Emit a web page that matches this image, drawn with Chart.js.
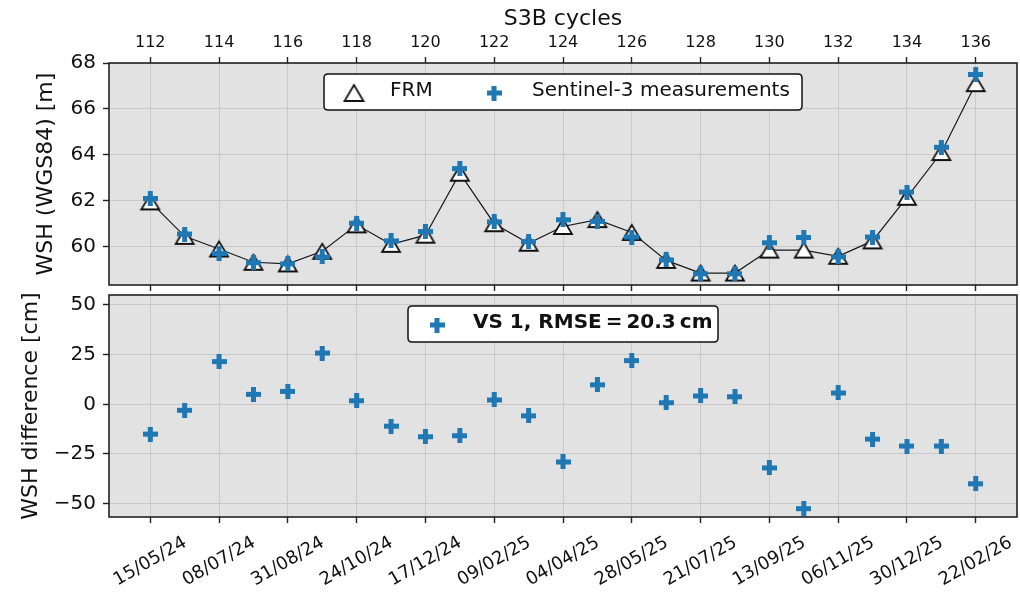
<!DOCTYPE html>
<html><head><meta charset="utf-8">
<script src="https://cdn.jsdelivr.net/npm/chart.js@4.4.0/dist/chart.umd.min.js"></script>
<style>
html,body{margin:0;padding:0;background:#fff;}
#wrap{position:relative;width:1020px;height:595px;overflow:hidden;}
#wrap canvas{position:absolute;left:0;top:0;}
</style></head><body>
<div id="wrap"><canvas id="topC" width="1020" height="595"></canvas><canvas id="botC" width="1020" height="595"></canvas></div>
<script>
// ---- data ----
const cycles = [112,113,114,115,116,117,118,119,120,121,122,123,124,125,126,127,128,129,130,131,132,133,134,135,136];
const frmWSH = [61.95,60.45,59.90,59.32,59.25,59.80,60.95,60.10,60.50,63.20,61.00,60.15,60.88,61.18,60.62,59.40,58.85,58.85,59.85,59.85,59.58,60.25,62.15,64.10,67.10];
const s3WSH  = [62.10,60.55,59.70,59.30,59.25,59.55,61.02,60.25,60.66,63.40,61.08,60.22,61.17,61.10,60.42,59.42,58.82,58.82,60.17,60.40,59.55,60.42,62.38,64.33,67.50];
const wshDiffCm = [-15,-3,21.5,5,6.5,25.8,1.8,-11,-16.3,-15.8,2.2,-5.8,-29,9.8,22,0.8,4.2,3.8,-32,-52.5,5.7,-17.5,-21,-21,-40];
const cycleTicks = [112,114,116,118,120,122,124,126,128,130,132,134,136];
const dateTickLabels = ['15/05/24','08/07/24','31/08/24','24/10/24','17/12/24','09/02/25','04/04/25','28/05/25','21/07/25','13/09/25','06/11/25','30/12/25','22/02/26'];
const wshTicks = [60,62,64,66,68];
const diffTicks = [-50,-25,0,25,50];
const legendTop = ['FRM','Sentinel-3 measurements'];
const legendBottom = 'VS 1, RMSE\u2009=\u200920.3\u2009cm';

// ---- styles ----
const FONT = 'DejaVu Sans';
const TXT = '#111';
const BLUE = '#1f77b4';
const BG = '#e2e2e2';
const GRID = '#c9c9c9';
const XMIN = 110.8, XMAX = 137.2;

function makePlus(size, arm, color){
  const c = document.createElement('canvas'); c.width = size; c.height = size;
  const g = c.getContext('2d'); g.fillStyle = color;
  const a = (size - arm) / 2;
  g.fillRect(a, 0, arm, size); g.fillRect(0, a, size, arm);
  return c;
}
function makeTri(w, h){
  const c = document.createElement('canvas'); c.width = w + 4; c.height = h + 4;
  const g = c.getContext('2d');
  g.lineWidth = 1.8; g.strokeStyle = '#111'; g.fillStyle = '#fff'; g.lineJoin = 'miter';
  g.beginPath(); g.moveTo(2 + w / 2, 2); g.lineTo(2, 2 + h); g.lineTo(2 + w, 2 + h); g.closePath();
  g.fill(); g.stroke();
  return c;
}
const plusImg = makePlus(15, 5, BLUE);
const triImg = makeTri(18, 15);
const triLegImg = makeTri(19, 16);

const setTicks = arr => s => { s.ticks = arr.map(v => ({value: v})); };
const minus = v => String(v).replace('-', '\u2212');

function roundBox(ctx, x, y, w, h, r){
  ctx.beginPath();
  ctx.moveTo(x + r, y); ctx.lineTo(x + w - r, y); ctx.quadraticCurveTo(x + w, y, x + w, y + r);
  ctx.lineTo(x + w, y + h - r); ctx.quadraticCurveTo(x + w, y + h, x + w - r, y + h);
  ctx.lineTo(x + r, y + h); ctx.quadraticCurveTo(x, y + h, x, y + h - r);
  ctx.lineTo(x, y + r); ctx.quadraticCurveTo(x, y, x + r, y); ctx.closePath();
  ctx.fillStyle = '#fff'; ctx.fill(); ctx.strokeStyle = '#111'; ctx.lineWidth = 1.5; ctx.stroke();
}
function framePlugin(legendDraw){
  return {
    id: 'frame',
    beforeDraw(chart){
      const {ctx, chartArea: a} = chart;
      ctx.save(); ctx.fillStyle = BG; ctx.fillRect(a.left, a.top, a.right - a.left, a.bottom - a.top); ctx.restore();
    },
    afterDraw(chart){
      const {ctx, chartArea: a} = chart;
      ctx.save(); ctx.strokeStyle = '#222'; ctx.lineWidth = 1.6;
      ctx.strokeRect(a.left, a.top, a.right - a.left, a.bottom - a.top); ctx.restore();
      ctx.save(); legendDraw(ctx); ctx.restore();
    }
  };
}

Chart.defaults.font.family = FONT;
Chart.defaults.color = TXT;

const common = {
  responsive: false, animation: false, devicePixelRatio: 1,
  events: [],
  plugins: { legend: {display: false}, tooltip: {enabled: false} }
};

// ---- top panel ----
new Chart(document.getElementById('topC'), {
  type: 'scatter',
  data: { datasets: [
    { label: legendTop[1], data: cycles.map((c, i) => ({x: c, y: s3WSH[i]})),
      pointStyle: plusImg, pointRadius: 7, showLine: false, order: 0, clip: false },
    { label: legendTop[0], data: cycles.map((c, i) => ({x: c, y: frmWSH[i]})),
      pointStyle: triImg, pointRadius: 9, showLine: true, borderColor: '#1a1a1a', borderWidth: 1.2,
      order: 1, clip: false }
  ]},
  options: Object.assign({}, common, {
    layout: { autoPadding: false, padding: {left: 0, right: 3, top: 0, bottom: 0} },
    scales: {
      x: { type: 'linear', position: 'top', min: XMIN, max: XMAX,
        afterBuildTicks: setTicks(cycleTicks),
        afterFit: s => { s.height = 63; s.paddingLeft = 0; s.paddingRight = 0; },
        ticks: { font: {size: 16}, color: TXT, padding: 5, maxRotation: 0, autoSkip: false, callback: v => String(v) },
        grid: { color: GRID, lineWidth: 1, tickLength: 6, tickColor: '#222', tickWidth: 1.4 },
        border: { display: false },
        title: { display: true, text: 'S3B cycles', font: {size: 22}, color: TXT, padding: {top: 6, bottom: 0} }
      },
      x2: { type: 'linear', position: 'bottom', min: XMIN, max: XMAX,
        afterBuildTicks: setTicks(cycleTicks),
        afterFit: s => { s.height = 310; s.paddingLeft = 0; s.paddingRight = 0; },
        ticks: { display: false },
        grid: { drawOnChartArea: false, tickLength: 6, tickColor: '#222', tickWidth: 1.4, color: GRID },
        border: { display: false }
      },
      y: { type: 'linear', position: 'left', min: 58.33, max: 68,
        afterBuildTicks: setTicks(wshTicks),
        afterFit: s => { s.width = 109; s.paddingTop = 0; s.paddingBottom = 0; },
        ticks: { font: {size: 20}, color: TXT, padding: 7, callback: v => minus(v) },
        grid: { color: GRID, lineWidth: 1, tickLength: 6, tickColor: '#222', tickWidth: 1.4 },
        border: { display: false },
        title: { display: true, text: 'WSH (WGS84) [m]', font: {size: 22}, color: TXT, padding: {top: 33, bottom: 0} }
      }
    }
  }),
  plugins: [framePlugin(ctx => {
    roundBox(ctx, 324, 74, 478, 36, 4);
    ctx.drawImage(triLegImg, 354 - triLegImg.width / 2, 93 - triLegImg.height / 2);
    ctx.drawImage(plusImg, 494 - 7.5, 93 - 7.5);
    ctx.fillStyle = TXT; ctx.font = '20px "' + FONT + '"'; ctx.textBaseline = 'middle'; ctx.textAlign = 'left';
    ctx.fillText(legendTop[0], 390, 91);
    ctx.fillText(legendTop[1], 532, 91);
  })]
});

// ---- bottom panel ----
new Chart(document.getElementById('botC'), {
  type: 'scatter',
  data: { datasets: [
    { label: legendBottom, data: cycles.map((c, i) => ({x: c, y: wshDiffCm[i]})),
      pointStyle: plusImg, pointRadius: 7, showLine: false, clip: false }
  ]},
  options: Object.assign({}, common, {
    layout: { autoPadding: false, padding: {left: 0, right: 3, top: 295, bottom: 0} },
    scales: {
      x: { type: 'linear', position: 'bottom', min: XMIN, max: XMAX,
        afterBuildTicks: setTicks(cycleTicks),
        afterFit: s => { s.height = 78; s.paddingLeft = 0; s.paddingRight = 0; },
        ticks: { font: {size: 18}, color: TXT, padding: 9, minRotation: 30, maxRotation: 30, autoSkip: false,
          labelOffset: 35,
          callback: v => dateTickLabels[cycleTicks.indexOf(v)] },
        grid: { color: GRID, lineWidth: 1, tickLength: 6, tickColor: '#222', tickWidth: 1.4 },
        border: { display: false }
      },
      y: { type: 'linear', position: 'left', min: -56.7, max: 55,
        afterBuildTicks: setTicks(diffTicks),
        afterFit: s => { s.width = 109; s.paddingTop = 0; s.paddingBottom = 0; },
        ticks: { font: {size: 20}, color: TXT, padding: 7, callback: v => minus(v) },
        grid: { color: GRID, lineWidth: 1, tickLength: 6, tickColor: '#222', tickWidth: 1.4 },
        border: { display: false },
        title: { display: true, text: 'WSH difference [cm]', font: {size: 22}, color: TXT, padding: {top: 18, bottom: 0} }
      }
    }
  }),
  plugins: [framePlugin(ctx => {
    roundBox(ctx, 408, 306, 310, 36, 4);
    ctx.drawImage(plusImg, 437 - 7.5, 325 - 7.5);
    ctx.fillStyle = TXT; ctx.font = 'bold 20px "' + FONT + '"'; ctx.textBaseline = 'middle'; ctx.textAlign = 'left';
    ctx.fillText(legendBottom, 473, 323);
  })]
});
</script>
</body></html>
